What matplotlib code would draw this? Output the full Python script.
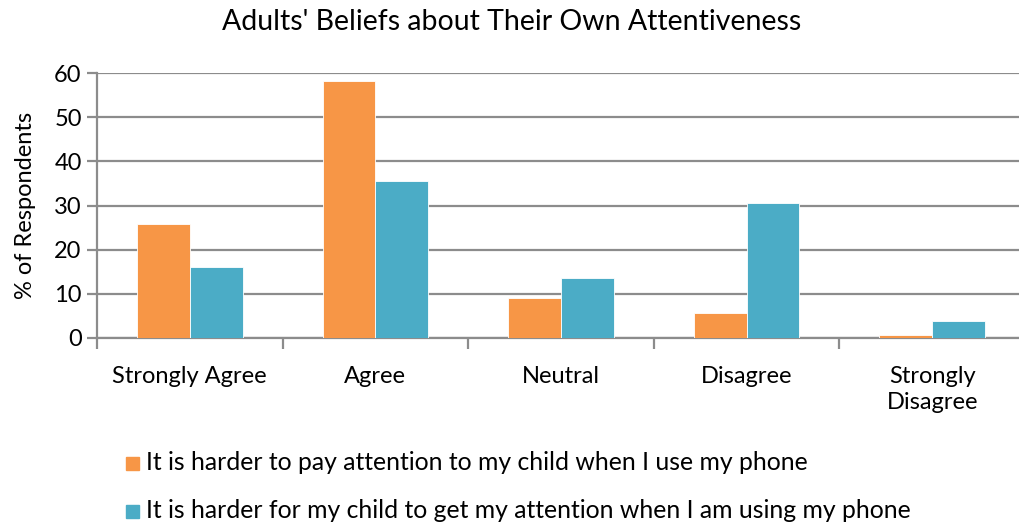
import numpy as np
import matplotlib
matplotlib.use("Agg")
import matplotlib.pyplot as plt
from matplotlib.patches import Rectangle

plt.rcParams['font.family'] = ['Lato', 'DejaVu Sans']

categories = ["Strongly Agree", "Agree", "Neutral", "Disagree", "Strongly\nDisagree"]
pay_attention = [25.8, 58.3, 9.0, 5.7, 0.6]
get_attention = [16.0, 35.5, 13.5, 30.5, 3.8]
series_names = ["It is harder to pay attention to my child when I use my phone",
                "It is harder for my child to get my attention when I am using my phone"]
orange = "#F79646"
blue = "#4BACC6"
grid_c = "#8C8C8C"

fig = plt.figure(figsize=(10.19, 5.24), dpi=100)
ax = fig.add_axes([97/1019, 1-338/524, 928/1019, 265/524])

x = np.arange(len(categories)) + 0.5
w = 0.285
ax.bar(x - w/2, pay_attention, w, color=orange, edgecolor="white", linewidth=0.6, zorder=3)
ax.bar(x + w/2, get_attention, w, color=blue, edgecolor="white", linewidth=0.6, zorder=3)

ax.set_xlim(0, len(categories))
ax.set_ylim(0, 60)
ax.set_yticks(range(0, 61, 10))
ax.yaxis.grid(True, color=grid_c, linewidth=1.6, zorder=0)
ax.set_xticks(range(len(categories) + 1))
ax.set_xticklabels([])
ax.set_xticks(x, minor=True)
ax.set_xticklabels(categories, minor=True, fontsize=17, linespacing=1.3)
ax.tick_params(axis="x", which="minor", length=0, pad=20)
ax.tick_params(axis="x", which="major", length=8, width=1.6, color=grid_c)
ax.tick_params(axis="y", length=7, width=1.6, color=grid_c, labelsize=17, pad=4)
for s in ["top", "right"]:
    ax.spines[s].set_visible(False)
for s in ["left", "bottom"]:
    ax.spines[s].set_color(grid_c)
    ax.spines[s].set_linewidth(1.6)
ax.set_ylabel("% of Respondents", fontsize=17, labelpad=13)

fig.text(512/1019, 1-22/524, "Adults' Beliefs about Their Own Attentiveness",
         fontsize=20.5, ha="center", va="center")

# legend rows below the plot
for i, (name, col) in enumerate(zip(series_names, [orange, blue])):
    yc = 1 - (463 + 48*i)/524
    fig.patches.append(Rectangle((126/1019, yc - 7/524), 13/1019, 13/524,
                                 transform=fig.transFigure, color=col))
    fig.text(146/1019, yc, name, fontsize=17.8, va="center", ha="left")

fig.savefig("out.png", dpi=100)
